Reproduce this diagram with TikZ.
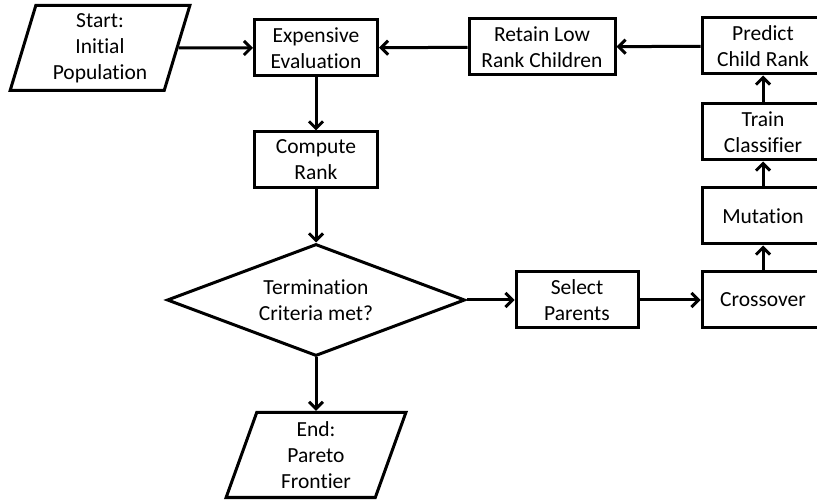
\documentclass[tikz,border=0pt]{standalone}
\usepackage{fontspec}
\setmainfont{Carlito}[Ligatures=NoCommon]
\usetikzlibrary{shapes.geometric,arrows.meta}
\begin{document}
\begin{tikzpicture}[x=1pt,y=-1pt,font=\fontsize{21.5}{26}\selectfont,
  box/.style={draw,line width=3pt,minimum width=123pt,minimum height=56pt,align=center,inner sep=2pt},
  para/.style={draw,line width=3pt,trapezium,trapezium left angle=75,trapezium right angle=105,trapezium stretches=true,minimum width=180pt,minimum height=85pt,align=center,inner sep=2pt},
  dec/.style={draw,line width=3pt,diamond,aspect=2.66,minimum width=298pt,minimum height=112pt,align=center,inner sep=2pt},
  arr/.style={line width=3pt,-{Straight Barb[length=7pt,width=14pt]}}]
\useasboundingbox (0,0) rectangle (817,502);
\clip (0,0) rectangle (817,502);
\node[para] (start) at (100,48) {Start:\\Initial\\Population};
\node[box] (eval) at (316,48) {Expensive\\Evaluation};
\node[box] (rank) at (316,160) {Compute\\Rank};
\node[dec] (term) at (316,300) {Termination\\Criteria met?};
\node[para] (end) at (316,455) {End:\\Pareto\\Frontier};
\node[box,minimum width=146pt] (retain) at (542,47) {Retain Low\\Rank Children};
\node[box,minimum width=122pt] (predict) at (763,46) {Predict\\Child Rank};
\node[box,minimum width=122pt] (train) at (763,132) {Train\\Classifier};
\node[box,minimum width=122pt] (mut) at (763,216) {Mutation};
\node[box,minimum width=122pt] (cross) at (763,300) {Crossover};
\node[box,minimum width=122pt] (select) at (577,300) {Select\\Parents};
\draw[arr] (start) -- (eval);
\draw[arr] (eval) -- (rank);
\draw[arr] (rank) -- (term);
\draw[arr] (term) -- (end);
\draw[arr] (term) -- (select);
\draw[arr] (select) -- (cross);
\draw[arr] (cross) -- (mut);
\draw[arr] (mut) -- (train);
\draw[arr] (train) -- (predict);
\draw[arr] (predict) -- (retain);
\draw[arr] (retain) -- (eval);
\end{tikzpicture}
\end{document}
